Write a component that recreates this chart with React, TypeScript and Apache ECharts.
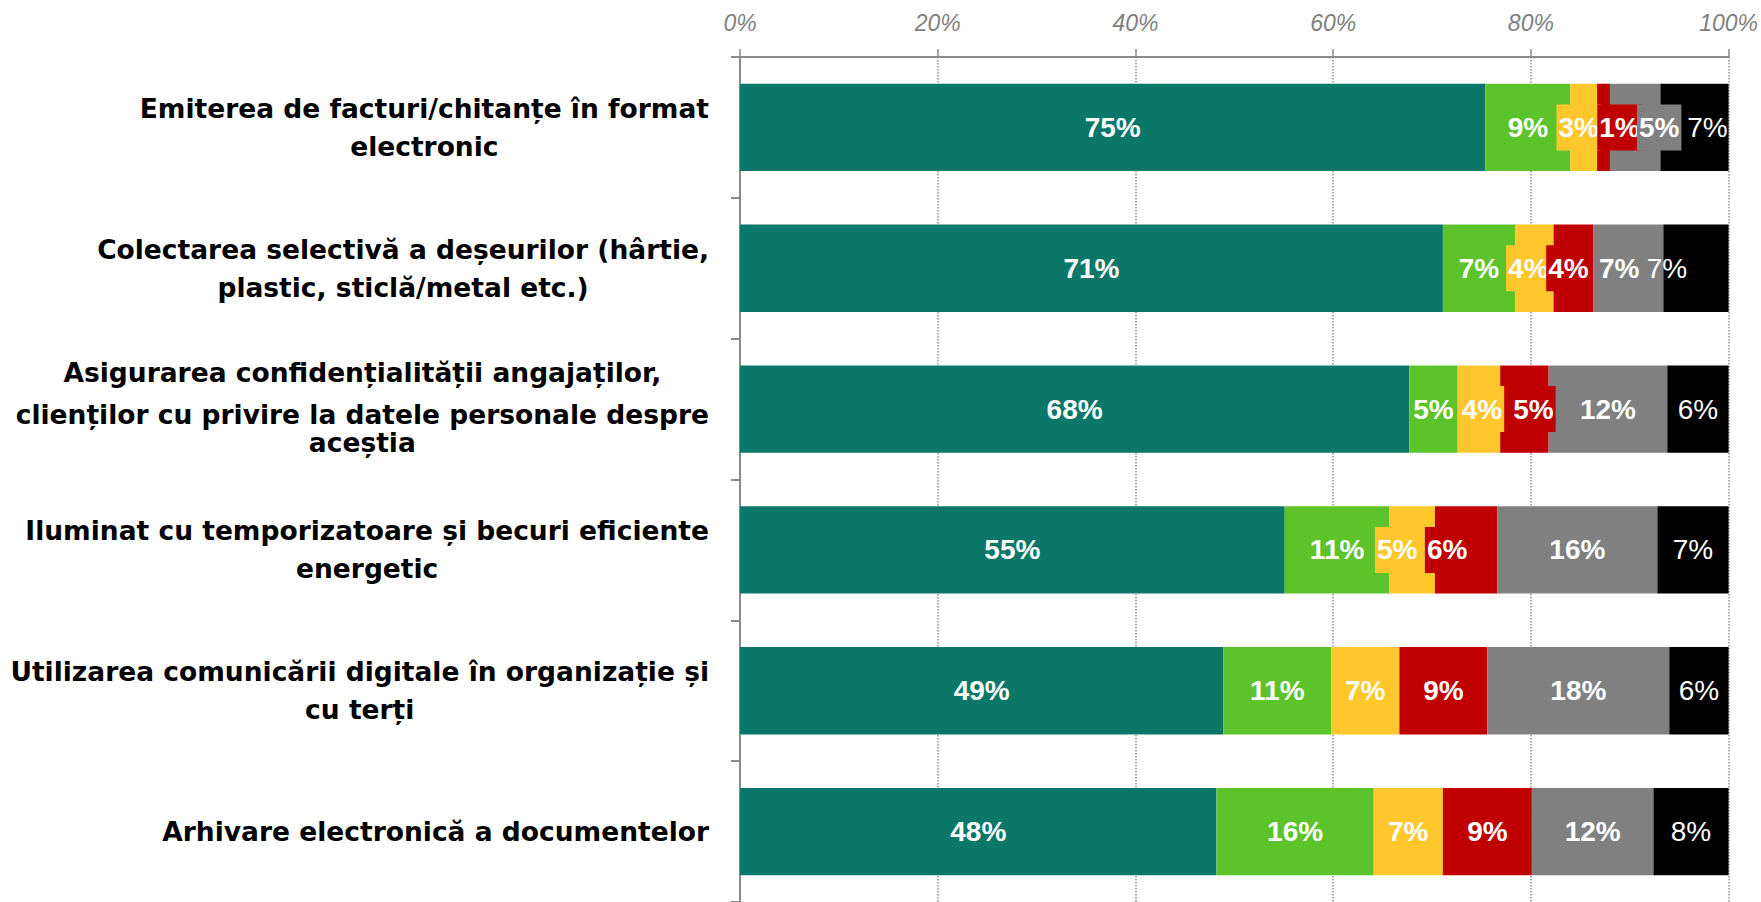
import React, { useEffect, useRef } from 'react';
import * as echarts from 'echarts';

const categories = [
  'Emiterea de facturi/chitanțe în format\nelectronic',
  'Colectarea selectivă a deșeurilor (hârtie,\nplastic, sticlă/metal etc.)',
  'Asigurarea confidențialității angajaților,\nclienților cu privire la datele personale despre\naceștia',
  'Iluminat cu temporizatoare și becuri eficiente\nenergetic',
  'Utilizarea comunicării digitale în organizație și\ncu terți',
  'Arhivare electronică a documentelor',
];

const seriesNames = ['Seria 1', 'Seria 2', 'Seria 3', 'Seria 4', 'Seria 5', 'Seria 6'];
const tealValues = [75.4, 71.1, 67.7, 55.1, 48.9, 48.2];
const greenValues = [8.6, 7.3, 4.9, 10.6, 10.9, 15.9];
const yellowValues = [2.7, 3.9, 4.3, 4.6, 6.9, 7.0];
const redValues = [1.3, 4.0, 4.9, 6.3, 8.9, 9.0];
const grayValues = [5.1, 7.1, 12.0, 16.2, 18.4, 12.3];
const blackValues = [6.9, 6.6, 6.2, 7.2, 6.0, 7.6];

const xTickMin = 0;
const xTickMax = 100;
const xTickStep = 20;

// horizontal nudges of the value labels (px), per category row, per series (as in the original)
const labelNudge = [
  [0, 0, -5, 16, 24, 13],
  [0, 0, -6, -5, -9, -29],
  [0, 0, 3, 9, 0, 0],
  [0, 0, -15, -19, 0, 0],
  [0, 0, 0, 0, 0, 0],
  [0, 0, 0, 0, 0, 0],
];

const FONT = '"Liberation Sans", Arial, sans-serif';
const CAT_FONT = '"DejaVu Sans", Verdana, sans-serif';

export default function App() {
  const ref = useRef<HTMLDivElement>(null);

  useEffect(() => {
    document.body.style.margin = '0';
    const chart = echarts.init(ref.current!, null, { renderer: 'svg' });

    const defs = [
      { data: tealValues, color: '#0B7768', weight: 'bold', box: true },
      { data: greenValues, color: '#5CC42A', weight: 'bold', box: true },
      { data: yellowValues, color: '#FFC72C', weight: 'bold', box: true },
      { data: redValues, color: '#C00000', weight: 'bold', box: true },
      { data: grayValues, color: '#808080', weight: 'bold', box: true },
      { data: blackValues, color: '#000000', weight: 'normal', box: false },
    ];

    const yData = categories.map((c, i) =>
      i === 2 ? { value: c, textStyle: { padding: [0, 0, 18, 0] } } : c
    );

    const catRich = (lh: number) => ({
      align: 'center',
      fontFamily: CAT_FONT,
      fontSize: 26.5,
      fontWeight: 'bold',
      color: '#000',
      lineHeight: lh,
    });

    chart.setOption({
      animation: false,
      grid: { left: 740, right: 32, top: 57, bottom: 0, containLabel: false },
      xAxis: {
        type: 'value',
        position: 'top',
        min: xTickMin,
        max: xTickMax,
        interval: xTickStep,
        axisLine: { show: true, lineStyle: { color: '#8a8a8a', width: 2 } },
        axisTick: { show: true, length: 8, lineStyle: { color: '#8a8a8a', width: 1.5 } },
        splitLine: { show: true, lineStyle: { type: 'dotted', color: '#8f8f8f', width: 1.5 } },
        axisLabel: {
          formatter: '{value}%',
          fontFamily: FONT,
          fontStyle: 'italic',
          fontSize: 23,
          color: '#7f7f7f',
          margin: 23,
        },
      },
      yAxis: {
        type: 'category',
        inverse: true,
        data: yData,
        axisLine: { show: true, lineStyle: { color: '#8a8a8a', width: 2 } },
        axisTick: { show: true, length: 9, lineStyle: { color: '#8a8a8a', width: 2 } },
        splitLine: { show: false },
        axisLabel: {
          margin: 31,
          fontFamily: CAT_FONT,
          fontSize: 26.5,
          fontWeight: 'bold',
          color: '#000',
          formatter: (value: string, index: number) => {
            const lines = value.split('\n');
            return lines
              .map((l, k) => {
                const tag = index === 2 ? (k === 0 ? 'a' : 'b') : 'c';
                return `{${tag}|${l}}`;
              })
              .join('\n');
          },
          rich: {
            c: catRich(38),
            a: catRich(56),
            b: catRich(28),
          },
        },
      },
      series: defs.map((d, si) => ({
        type: 'bar',
        name: seriesNames[si],
        stack: 'total',
        data: d.data.map((v, r) => ({ value: v, label: { offset: [labelNudge[r][si], 0] } })),
        barWidth: '62%',
        itemStyle: { color: d.color },
        label: {
          show: true,
          position: 'inside',
          color: '#fff',
          fontFamily: FONT,
          fontSize: 28,
          fontWeight: d.weight,
          backgroundColor: d.box ? d.color : 'transparent',
          padding: [9, 2],
          formatter: (p: any) => Math.round(p.value) + '%',
        },
      })),
    });

    return () => chart.dispose();
  }, []);

  return <div ref={ref} style={{ width: 1761, height: 902 }} />;
}
